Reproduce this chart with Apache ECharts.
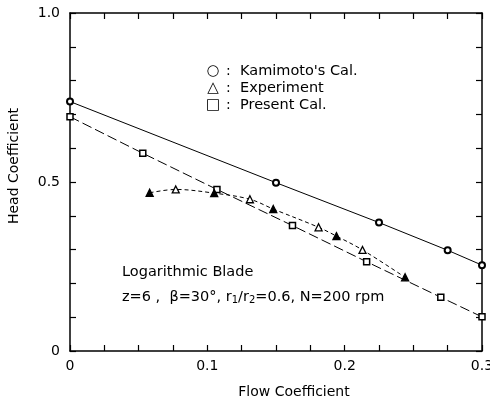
<!DOCTYPE html>
<html><head><meta charset="utf-8">
<script src="https://cdn.jsdelivr.net/npm/echarts@6/dist/echarts.min.js"></script>
<style>html,body{margin:0;padding:0;background:#fff}#c{width:490px;height:405px}</style>
</head><body><div id="c"></div>
<script>
// Kamimoto's Cal. (circles, solid line)
const kamX = [0, 0.150, 0.225, 0.275, 0.300];
const kamY = [0.738, 0.498, 0.380, 0.298, 0.254];
// Present Cal. (squares, long-dash line)
const preX = [0, 0.053, 0.107, 0.162, 0.216, 0.270, 0.300];
const preY = [0.693, 0.585, 0.478, 0.371, 0.264, 0.159, 0.101];
// Experiment (triangles, short-dash line)
const expX = [0.058, 0.077, 0.105, 0.131, 0.148, 0.181, 0.194, 0.213, 0.244];
const expY = [0.468, 0.478, 0.467, 0.449, 0.420, 0.366, 0.340, 0.299, 0.218];
const xTickLabels = ['0', '0.1', '0.2', '0.3'];
const yTickLabels = ['0', '0.5', '1.0'];
const legendLabels = ["Kamimoto's Cal.", 'Experiment', 'Present Cal.'];
const legendSymbols = ['○', '△', '□'];

const FONT = 'DejaVu Sans';
const chart = echarts.init(document.getElementById('c'));
const pair = (xs, ys) => xs.map((x, i) => [x, ys[i]]);
const near = (v, step) => Math.abs(v / step - Math.round(v / step)) < 1e-6;

const axisCommon = {
  axisLine: {show: true, onZero: false, lineStyle: {color: '#000', width: 1.5}},
  axisTick: {show: true, inside: true, length: 6, lineStyle: {color: '#000', width: 1.2}},
  splitLine: {show: false}
};

const legendRowsY = [71, 88, 105];
const graphics = [];
legendLabels.forEach((lab, i) => {
  graphics.push({type: 'text', x: 213, y: legendRowsY[i], style: {text: legendSymbols[i], font: '15px ' + FONT, fill: '#000', align: 'center', verticalAlign: 'middle'}});
  graphics.push({type: 'text', x: 226, y: legendRowsY[i], style: {text: ':', font: '14px ' + FONT, fill: '#000', verticalAlign: 'middle'}});
  graphics.push({type: 'text', x: 240, y: legendRowsY[i], style: {text: lab, font: '14.5px ' + FONT, fill: '#000', verticalAlign: 'middle'}});
});
graphics.push({type: 'text', x: 122, y: 272, style: {text: 'Logarithmic Blade', font: '14.5px ' + FONT, fill: '#000', verticalAlign: 'middle'}});
graphics.push({type: 'text', x: 122, y: 297, style: {
  text: '{t|z=6 ,  β=30°, r}{s|1}{t|/r}{s|2}{t|=0.6, N=200 rpm}', verticalAlign: 'middle',
  rich: {t: {font: '14.5px ' + FONT, fill: '#000'}, s: {font: '10px ' + FONT, fill: '#000', padding: [6, 0, 0, 0]}}}});
graphics.push({type: 'text', x: 294, y: 392, style: {text: 'Flow Coefficient', font: '14px ' + FONT, fill: '#000', align: 'center', verticalAlign: 'middle'}});
graphics.push({type: 'text', x: 14, y: 166, rotation: Math.PI / 2, style: {text: 'Head Coefficient', font: '14px ' + FONT, fill: '#000', align: 'center', verticalAlign: 'middle'}});

chart.setOption({
  animation: false,
  grid: {left: 70, right: 8, top: 13, bottom: 54, containLabel: false, outerBoundsMode: 'none'},
  xAxis: [
    Object.assign({type: 'value', min: 0, max: 0.3, interval: 0.025, position: 'bottom',
      axisLabel: {margin: 8, fontFamily: FONT, fontSize: 14, color: '#000', showMaxLabel: true, hideOverlap: false,
        formatter: v => near(v, 0.1) ? xTickLabels[Math.round(v / 0.1)] : ''}}, axisCommon),
    Object.assign({type: 'value', min: 0, max: 0.3, interval: 0.025, position: 'top',
      axisLabel: {show: false}}, axisCommon)
  ],
  yAxis: [
    Object.assign({type: 'value', min: 0, max: 1.0, interval: 0.1, position: 'left',
      axisLabel: {margin: 10, fontFamily: FONT, fontSize: 14, color: '#000',
        formatter: v => near(v, 0.5) ? yTickLabels[Math.round(v / 0.5)] : ''}}, axisCommon),
    Object.assign({type: 'value', min: 0, max: 1.0, interval: 0.1, position: 'right',
      axisLabel: {show: false}}, axisCommon)
  ],
  series: [
    {type: 'line', name: legendLabels[0], data: pair(kamX, kamY),
      symbol: 'emptyCircle', symbolSize: 6,
      lineStyle: {color: '#000', width: 1},
      itemStyle: {color: '#000', borderColor: '#000', borderWidth: 2}},
    {type: 'line', name: legendLabels[2], data: pair(preX, preY),
      symbol: 'rect', symbolSize: 6,
      lineStyle: {color: '#000', width: 1, type: [10, 4]},
      itemStyle: {color: '#fff', borderColor: '#000', borderWidth: 1.5}},
    {type: 'line', name: legendLabels[1], smooth: 0.35,
      data: pair(expX, expY).map((p, i) => ({value: p,
        itemStyle: {color: i % 2 === 0 ? '#000' : '#fff', borderColor: '#000', borderWidth: 1.3}})),
      symbol: 'triangle', symbolSize: 7,
      lineStyle: {color: '#000', width: 1, type: [4, 3]}}
  ],
  graphic: graphics
});
</script></body></html>
